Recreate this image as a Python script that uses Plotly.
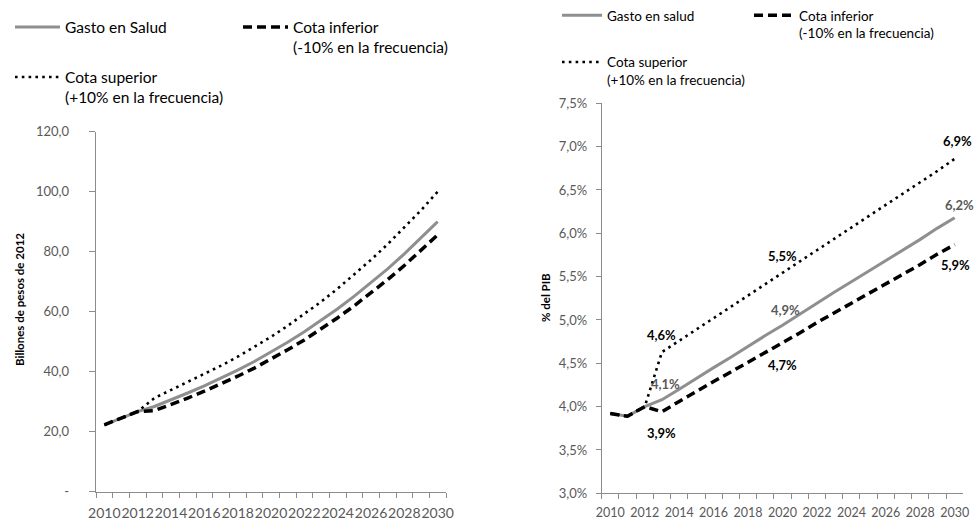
import plotly.graph_objects as go

# ---------------- data ----------------
years = [str(y) for y in range(2010, 2031)]
year_ticktext = [y if int(y) % 2 == 0 else "" for y in years]

# Left panel: billones de pesos de 2012
gasto_billones = [22.3, 24.5, 26.7, 28.4, 30.6, 32.9, 35.3, 37.8, 40.5, 43.4, 46.5,
                  49.8, 53.3, 57.0, 61.0, 65.2, 69.6, 74.3, 79.3, 84.5, 90.0]
inferior_billones = [22.3, 24.5, 26.7, 27.0, 29.0, 31.2, 33.5, 35.9, 38.5, 41.2, 44.1,
                     47.3, 50.6, 54.2, 58.0, 62.0, 66.2, 70.7, 75.4, 80.4, 85.6]
superior_billones = [22.3, 24.5, 26.7, 31.2, 33.9, 36.5, 39.2, 42.0, 45.0, 48.2, 51.6,
                     55.3, 59.2, 63.3, 67.7, 72.4, 77.3, 82.5, 88.0, 93.8, 100.0]
left_range = [0, 120]
left_tickvals = [0, 20, 40, 60, 80, 100, 120]
left_ticktext = ["-", "20,0", "40,0", "60,0", "80,0", "100,0", "120,0"]

# Right panel: % del PIB
gasto_pib = [3.92, 3.89, 4.00, 4.08, 4.20, 4.33, 4.45, 4.57, 4.70, 4.82, 4.94,
             5.07, 5.19, 5.32, 5.44, 5.56, 5.69, 5.81, 5.93, 6.06, 6.18]
inferior_pib = [3.92, 3.89, 4.00, 3.94, 4.06, 4.18, 4.29, 4.40, 4.51, 4.63, 4.74,
                4.85, 4.97, 5.08, 5.19, 5.30, 5.42, 5.53, 5.64, 5.76, 5.87]
superior_pib = [3.92, 3.89, 4.00, 4.63, 4.76, 4.89, 5.02, 5.15, 5.28, 5.41, 5.54,
                5.67, 5.80, 5.93, 6.06, 6.20, 6.33, 6.46, 6.59, 6.72, 6.86]
right_range = [3.0, 7.5]
right_tickvals = [3.0, 3.5, 4.0, 4.5, 5.0, 5.5, 6.0, 6.5, 7.0, 7.5]
right_ticktext = ["3,0%", "3,5%", "4,0%", "4,5%", "5,0%", "5,5%", "6,0%", "6,5%", "7,0%", "7,5%"]
label_years = ["2013", "2020", "2030"]

# ---------------- styles ----------------
W, H = 977, 520
FONT = "Lato, 'Open Sans', sans-serif"
GRAY_LINE = "#8f8f8f"
AXIS = "#8c8c8c"
TICKFONT = "#595959"

solid = dict(color=GRAY_LINE, width=3)
dashed = dict(color="#000000", width=3.5, dash="9px,5px")
dotted = dict(color="#000000", width=2.6, dash="2.6px,4.2px")

def px_x(p):
    return p / W

def px_y(p):
    return 1 - p / H

# pixel frame of the left panel; the tick labels sit back from the axis line
LEFT_X0, LEFT_X1, LEFT_LABEL_X = 96, 446, 70
n_cat = len(years)
unit = (LEFT_X1 - LEFT_X0) / n_cat
x3_range = [n_cat - 0.5 - (LEFT_X1 - LEFT_LABEL_X) / unit, n_cat - 0.5]

fig = go.Figure()

def add(x, y, name, line, xa, ya, legend):
    fig.add_trace(go.Scatter(x=x, y=y, name=name, mode="lines", line=line,
                             xaxis=xa, yaxis=ya, legend=legend, hoverinfo="x+y+name"))

# left panel (dashed drawn last, on the x3/y3 frame that has identical scales and carries the labels)
add(years, gasto_billones, "Gasto en Salud", solid, "x", "y", "legend")
add(years, superior_billones, "Cota superior<br>(+10% en la frecuencia)", dotted, "x", "y", "legend3")
add(years, inferior_billones, "Cota inferior<br>(-10% en la frecuencia)", dashed, "x3", "y3", "legend2")

# right panel
add(years, gasto_pib, "Gasto en salud", solid, "x2", "y2", "legend4")
add(years, superior_pib, "Cota superior<br>(+10% en la frecuencia)", dotted, "x2", "y2", "legend6")
add(years, inferior_pib, "Cota inferior<br>(-10% en la frecuencia)", dashed, "x2", "y2", "legend5")

# data labels on right panel
def fmt(v):
    return f"{v:.1f}".replace(".", ",") + "%"

label_specs = [
    (superior_pib, [17, 17, 18], [0, 0, 3], "#000000"),
    (gasto_pib, [16, 15, 13], [4, 3, 5], "#595959"),
    (inferior_pib, [-21, -22, -20], [0, 0, 1], "#000000"),
]
for series, yshifts, xshifts, col in label_specs:
    for yr, ys, xs in zip(label_years, yshifts, xshifts):
        idx = years.index(yr)
        v = series[idx]
        fig.add_annotation(x=idx, y=v, xref="x2", yref="y2", text="<b>" + fmt(v) + "</b>",
                           showarrow=False, yshift=ys, xshift=xs,
                           font=dict(family=FONT, size=13, color=col))

# axis titles
fig.add_annotation(x=px_x(19), y=px_y(300), xref="paper", yref="paper",
                   xanchor="center", yanchor="middle",
                   text="<b>Billones de pesos de 2012</b>", textangle=-90, showarrow=False,
                   font=dict(family=FONT, size=11.5, color="#000000"))
fig.add_annotation(x=px_x(545), y=px_y(298), xref="paper", yref="paper",
                   xanchor="center", yanchor="middle",
                   text="<b>% del PIB</b>", textangle=-90, showarrow=False,
                   font=dict(family=FONT, size=11.5, color="#000000"))

common_x = dict(type="category", tickson="boundaries", ticks="outside", ticklen=5,
                tickcolor=AXIS, showline=True, linecolor=AXIS, linewidth=1,
                showgrid=False, zeroline=False, tickvals=years, ticktext=year_ticktext,
                range=[-0.5, n_cat - 0.5], autorange=False, tickangle=0,
                automargin=False, fixedrange=True)

left_dom = [px_y(491.7), px_y(131.7)]

fig.update_layout(
    width=W, height=H,
    margin=dict(l=0, r=0, t=0, b=0, autoexpand=False),
    paper_bgcolor="white", plot_bgcolor="rgba(0,0,0,0)",
    font=dict(family=FONT, color="#000000"),
    showlegend=True,
    xaxis=dict(domain=[px_x(LEFT_X0), px_x(LEFT_X1)], anchor="y",
               tickfont=dict(family=FONT, size=14, color=TICKFONT),
               ticklabelstandoff=8, **common_x),
    # axis line + tick marks of the left panel
    yaxis=dict(domain=left_dom, anchor="x", range=left_range,
               tickvals=left_tickvals, showticklabels=False,
               ticks="outside", ticklen=6, tickcolor=AXIS,
               showline=True, linecolor=AXIS, linewidth=1, showgrid=False, zeroline=False,
               automargin=False, fixedrange=True),
    # same category scale as xaxis, extended leftwards so y3 labels sit where Excel puts them
    xaxis3=dict(domain=[px_x(LEFT_LABEL_X), px_x(LEFT_X1)], anchor="y3", type="category",
                range=x3_range, autorange=False,
                showline=False, showticklabels=False, ticks="", showgrid=False,
                zeroline=False, automargin=False, fixedrange=True),
    yaxis3=dict(domain=left_dom, anchor="x3", range=left_range,
                tickvals=left_tickvals, ticktext=left_ticktext,
                ticks="", showline=False, showgrid=False, zeroline=False,
                tickfont=dict(family=FONT, size=13, color=TICKFONT),
                automargin=False, fixedrange=True),
    xaxis2=dict(domain=[px_x(601.7), px_x(963.3)], anchor="y2",
                tickfont=dict(family=FONT, size=12.5, color=TICKFONT),
                ticklabelstandoff=8, **common_x),
    yaxis2=dict(domain=[px_y(493.3), px_y(103.3)], anchor="x2", range=right_range,
                tickvals=right_tickvals, ticktext=right_ticktext,
                ticks="outside", ticklen=5, tickcolor=AXIS,
                showline=True, linecolor=AXIS, linewidth=1, showgrid=False, zeroline=False,
                tickfont=dict(family=FONT, size=13, color=TICKFONT), ticklabelstandoff=6,
                automargin=False, fixedrange=True),
)

leg_left = dict(font=dict(family=FONT, size=15.5, color="#000000"), itemwidth=45,
                bgcolor="rgba(0,0,0,0)", xanchor="left", yanchor="top", valign="top")
leg_right = dict(font=dict(family=FONT, size=13.5, color="#000000"), itemwidth=40,
                 bgcolor="rgba(0,0,0,0)", xanchor="left", yanchor="top", valign="top")

fig.update_layout(
    legend=dict(x=px_x(10), y=px_y(10.4), **leg_left),
    legend2=dict(x=px_x(238), y=px_y(10.4), **leg_left),
    legend3=dict(x=px_x(10), y=px_y(60.4), **leg_left),
    legend4=dict(x=px_x(557), y=px_y(0), **leg_right),
    legend5=dict(x=px_x(749), y=px_y(0), **leg_right),
    legend6=dict(x=px_x(557), y=px_y(46.7), **leg_right),
)

fig.write_html("out.html", config={"displayModeBar": False},
               post_script="document.body.style.margin='0';")
